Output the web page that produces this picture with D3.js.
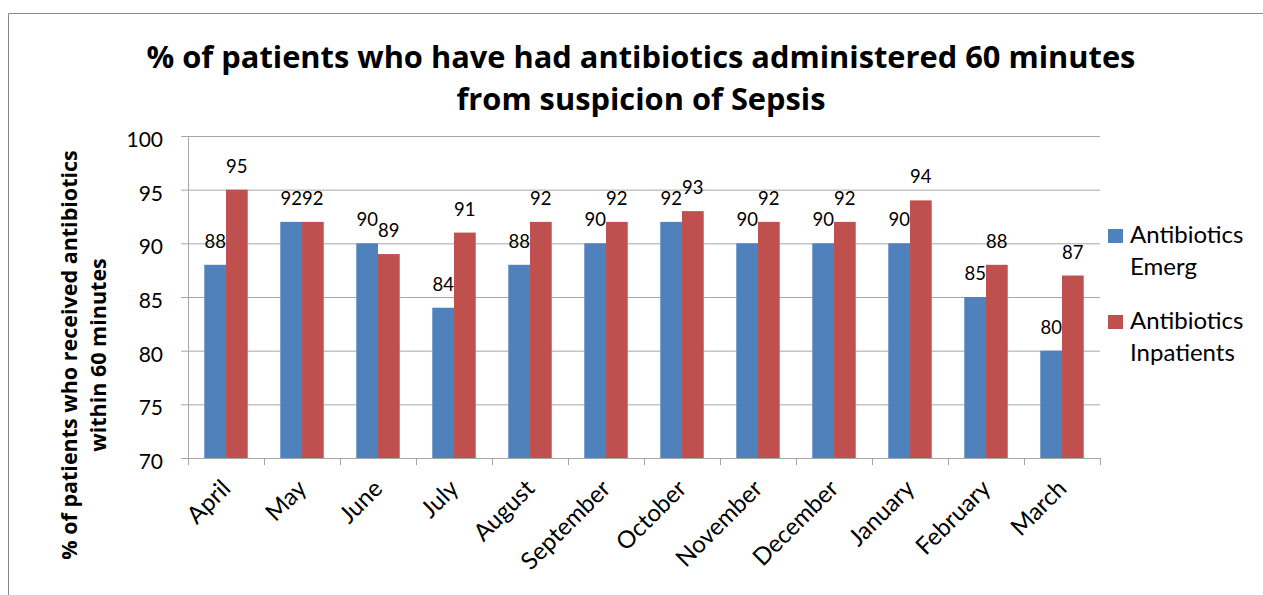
<!DOCTYPE html>
<html>
<head>
<meta charset="utf-8">
<script src="https://cdn.jsdelivr.net/npm/d3@7"></script>
<style>
  html, body { margin: 0; padding: 0; background: #fff; }
  svg { display: block; }
  text { font-family: Lato, "Open Sans", sans-serif; fill: #000; }
</style>
</head>
<body>
<svg id="chart" width="1263" height="595"></svg>
<script>
// Monthly share of patients given antibiotics within 60 minutes
const months = ["April", "May", "June", "July", "August", "September",
                "October", "November", "December", "January", "February", "March"];
const emerg = [88, 92, 90, 84, 88, 90, 92, 90, 90, 90, 85, 80];
const inpatients = [95, 92, 89, 91, 92, 92, 93, 92, 92, 94, 88, 87];
const seriesNames = ["Antibiotics Emerg", "Antibiotics Inpatients"];
const yTicks = [70, 75, 80, 85, 90, 95, 100];

const colors = ["#4F81BD", "#C0504D"];
const svg = d3.select("#chart");

// Chart frame
svg.append("path")
  .attr("d", "M8.5,595 V13.5 H1263")
  .attr("fill", "none")
  .attr("stroke", "#8a8a8a")
  .attr("stroke-width", 1);

const plot = { left: 188, right: 1100, top: 136, bottom: 458 };

const x = d3.scaleBand().domain(months).range([plot.left, plot.right]).paddingInner(0).paddingOuter(0);
const y = d3.scaleLinear().domain([70, 100]).range([plot.bottom, plot.top]);
// Two bars per month with 150% gap width
const barW = x.bandwidth() / 3.5;
const sub = d3.scaleBand().domain([0, 1]).range([0, barW * 2]);

// Gridlines + y axis
const yAxis = d3.axisLeft(y).tickValues(yTicks).tickSize(-(plot.right - plot.left)).tickPadding(25).tickFormat(d3.format("d"));
const gy = svg.append("g").attr("transform", `translate(${plot.left},0)`).call(yAxis);
gy.select(".domain").remove();
gy.selectAll(".tick line").attr("stroke", "#a6a6a6").attr("x1", -7);
gy.selectAll(".tick text")
  .attr("font-size", 21).attr("fill", "#222").attr("dy", "0.5em")
  .style("font-family", "Lato, sans-serif");

svg.append("line")
  .attr("x1", plot.left + 0.5).attr("x2", plot.left + 0.5)
  .attr("y1", plot.top).attr("y2", plot.bottom)
  .attr("stroke", "#a6a6a6");

// Bars
const data = months.map((m, i) => ({ month: m, vals: [emerg[i], inpatients[i]] }));
const groups = svg.append("g").selectAll("g").data(data).join("g")
  .attr("transform", d => `translate(${x(d.month) + (x.bandwidth() - barW * 2) / 2},0)`);

groups.selectAll("rect").data(d => d.vals).join("rect")
  .attr("x", (v, i) => sub(i))
  .attr("width", sub.bandwidth())
  .attr("y", v => y(v))
  .attr("height", v => y(70) - y(v))
  .attr("fill", (v, i) => colors[i]);

groups.selectAll("text.val").data(d => d.vals).join("text")
  .attr("class", "val")
  .attr("x", (v, i) => sub(i) + sub.bandwidth() / 2)
  .attr("y", v => y(v) - 17)
  .attr("text-anchor", "middle")
  .attr("font-size", 18.5)
  .attr("fill", "#222")
  .text(v => v);

// X axis
const xAxis = d3.axisBottom(x).tickSize(0).tickFormat("");
const gx = svg.append("g").attr("transform", `translate(0,${plot.bottom})`).call(xAxis);
gx.select(".domain").attr("stroke", "#a6a6a6").attr("d", `M${plot.left - 7},0.5H${plot.right}`);
const boundaries = d3.range(months.length + 1).map(i => plot.left + i * x.bandwidth());
gx.selectAll("line.bt").data(boundaries).join("line")
  .attr("class", "bt")
  .attr("x1", d => d + 0.5).attr("x2", d => d + 0.5)
  .attr("y1", 0).attr("y2", 7)
  .attr("stroke", "#a6a6a6");

svg.append("g").selectAll("text").data(months).join("text")
  .attr("transform", d => `translate(${x(d) + x.bandwidth() / 2 + 6},${plot.bottom + 32}) rotate(-45)`)
  .attr("text-anchor", "end")
  .attr("font-size", 24)
  .attr("fill", "#222")
  .text(d => d);

// Title
const title = svg.append("text")
  .attr("text-anchor", "middle")
  .attr("font-size", 30.8)
  .attr("font-weight", "bold")
  .style("font-family", "'Open Sans', sans-serif");
title.append("tspan").attr("x", 641).attr("y", 68).text("% of patients who have had antibiotics administered 60 minutes");
title.append("tspan").attr("x", 641).attr("y", 110).text("from suspicion of Sepsis");

// Y axis title
const yt = svg.append("text")
  .attr("transform", "translate(77,355) rotate(-90)")
  .attr("text-anchor", "middle")
  .attr("font-size", 21.5)
  .attr("font-weight", "bold")
  .style("font-family", "'Open Sans', sans-serif");
yt.append("tspan").attr("x", 0).attr("y", 0).text("% of patients who received antibiotics");
yt.append("tspan").attr("x", 0).attr("y", 29).text("within 60 minutes");

// Legend
const legend = svg.append("g").selectAll("g").data(seriesNames).join("g")
  .attr("transform", (d, i) => `translate(1108,${229 + i * 86})`);
legend.append("rect").attr("width", 15).attr("height", 14).attr("fill", (d, i) => colors[i]);
legend.append("text")
  .attr("x", 22).attr("y", 14)
  .attr("font-size", 24)
  .attr("fill", "#222")
  .selectAll("tspan").data(d => [d.split(" ")[0], d.split(" ").slice(1).join(" ")]).join("tspan")
  .attr("x", 22).attr("dy", (d, i) => i === 0 ? 0 : 32)
  .text(d => d);
</script>
</body>
</html>
